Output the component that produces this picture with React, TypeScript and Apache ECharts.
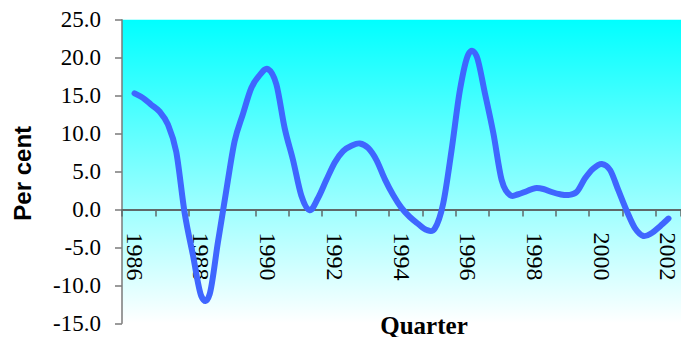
import React, { useEffect, useRef } from "react";
import * as echarts from "echarts";

// Quarterly categories: 1985 Q4 .. 2002 Q2 (labels show the year)
const startYear = 1985;
const startQuarter = 4;
const categoryCount = 67;
const categories: string[] = [];
for (let i = 0; i < categoryCount; i++) {
  const q0 = startQuarter - 1 + i;
  const y = startYear + Math.floor(q0 / 4);
  const q = (q0 % 4) + 1;
  categories.push(`${y} Q${q}`);
}

// Per cent values, 1986 Q1 .. 2002 Q1
const growth: number[] = [
  15.3, 14.7, 13.8, 12.9, 11.2, 7.6, -0.4, -6.0, -11.4, -11.2,
  -4.3, 2.5, 9.0, 12.6, 16.0, 17.7, 18.5, 16.5, 10.7, 6.5,
  1.8, -0.1, 1.5, 3.9, 6.2, 7.7, 8.4, 8.7, 8.1, 6.5,
  4.0, 1.9, 0.2, -1.0, -1.9, -2.7, -2.5, 0.8, 7.8, 15.7,
  20.4, 20.2, 15.3, 10.1, 3.9, 1.9, 2.0, 2.4, 2.8, 2.7,
  2.3, 2.0, 1.9, 2.3, 4.1, 5.4, 6.0, 5.2, 2.5, -0.2,
  -2.5, -3.5, -3.1, -2.2, -1.2,
];
const firstDataIndex = 1;

const yMin = -15;
const yMax = 25;
const yStep = 5;

const yTitle = "Per cent";
const xTitle = "Quarter";

export default function App() {
  const ref = useRef<HTMLDivElement>(null);
  useEffect(() => {
    document.body.style.margin = "0";
    if (!ref.current) return;
    const chart = echarts.init(ref.current, undefined, { renderer: "svg" });
    const seriesData = growth.map((v, k) => [k + firstDataIndex, v]);
    const serif = "Liberation Serif, serif";
    const gridTop = 19.7;
    const gridBottom = 13.7;
    const plotH = 337 - gridTop - gridBottom;
    const zeroY = gridTop + (yMax / (yMax - yMin)) * plotH;
    const axisOffset = -(337 - gridBottom - zeroY);

    const renderItem = (params: any, api: any) => {
      if (params.dataIndex !== 0) return null;
      const pts: number[][] = seriesData.map((d) => api.coord(d));
      const n = pts.length;
      let d = `M${pts[0][0]},${pts[0][1]}`;
      for (let i = 0; i < n - 1; i++) {
        const p0 = pts[i - 1] || pts[i];
        const p1 = pts[i];
        const p2 = pts[i + 1];
        const p3 = pts[i + 2] || pts[i + 1];
        const c1x = p1[0] + (p2[0] - p0[0]) / 6;
        const c1y = p1[1] + (p2[1] - p0[1]) / 6;
        const c2x = p2[0] - (p3[0] - p1[0]) / 6;
        const c2y = p2[1] - (p3[1] - p1[1]) / 6;
        d += ` C${c1x},${c1y} ${c2x},${c2y} ${p2[0]},${p2[1]}`;
      }
      return {
        type: "path",
        shape: { pathData: d },
        style: {
          fill: "none",
          stroke: "#3F66FF",
          lineWidth: 6,
          lineCap: "round",
          lineJoin: "round",
        },
      };
    };

    chart.setOption({
      animation: false,
      textStyle: { fontFamily: serif },
      grid: {
        left: 122,
        right: 0,
        top: gridTop,
        bottom: gridBottom,
        containLabel: false,
        outerBoundsMode: "none",
        show: true,
        borderWidth: 0,
        backgroundColor: {
          type: "linear",
          x: 0,
          y: 0,
          x2: 0,
          y2: 1,
          colorStops: [
            { offset: 0, color: "#00FFFF" },
            { offset: 1, color: "#FFFFFF" },
          ],
        },
      },
      xAxis: {
        type: "category",
        data: categories,
        boundaryGap: true,
        offset: axisOffset,
        axisLine: { onZero: false, lineStyle: { color: "#5f6868", width: 2 } },
        axisTick: {
          show: true,
          length: 7,
          interval: (index: number) => index % 4 === 0,
          lineStyle: { color: "#5f6868", width: 1.5 },
        },
        axisLabel: {
          interval: (index: number) => index % 8 === 1,
          formatter: (v: string) => v.slice(0, 4),
          rotate: -90,
          margin: 23,
          fontSize: 24,
          fontFamily: serif,
          fontWeight: "normal",
          color: "#000",
        },
        splitLine: { show: false },
      },
      yAxis: {
        type: "value",
        min: yMin,
        max: yMax,
        interval: yStep,
        axisLine: { show: true, onZero: false, lineStyle: { color: "#7a7a7a", width: 1.5 } },
        axisTick: { show: true, length: 7, lineStyle: { color: "#7a7a7a", width: 1.5 } },
        axisLabel: {
          formatter: (v: number) => v.toFixed(1),
          margin: 21,
          fontSize: 23,
          fontFamily: serif,
          fontWeight: "normal",
          color: "#000",
        },
        splitLine: { show: false },
      },
      series: [
        {
          type: "custom",
          data: seriesData,
          encode: { x: 0, y: 1 },
          renderItem,
          clip: false,
        },
      ],
      graphic: [
        {
          type: "text",
          x: 22.7,
          y: 173.3,
          rotation: Math.PI / 2,
          style: {
            text: yTitle,
            align: "center",
            verticalAlign: "middle",
            font: "bold 24px 'Liberation Sans', Arial, sans-serif",
            fill: "#000",
          },
        },
        {
          type: "text",
          x: 424,
          y: 325,
          style: {
            text: xTitle,
            align: "center",
            verticalAlign: "middle",
            font: "bold 25px 'Liberation Serif', 'Times New Roman', serif",
            fill: "#000",
          },
        },
      ],
    });
    return () => chart.dispose();
  }, []);
  return <div ref={ref} style={{ width: 681, height: 337 }} />;
}
